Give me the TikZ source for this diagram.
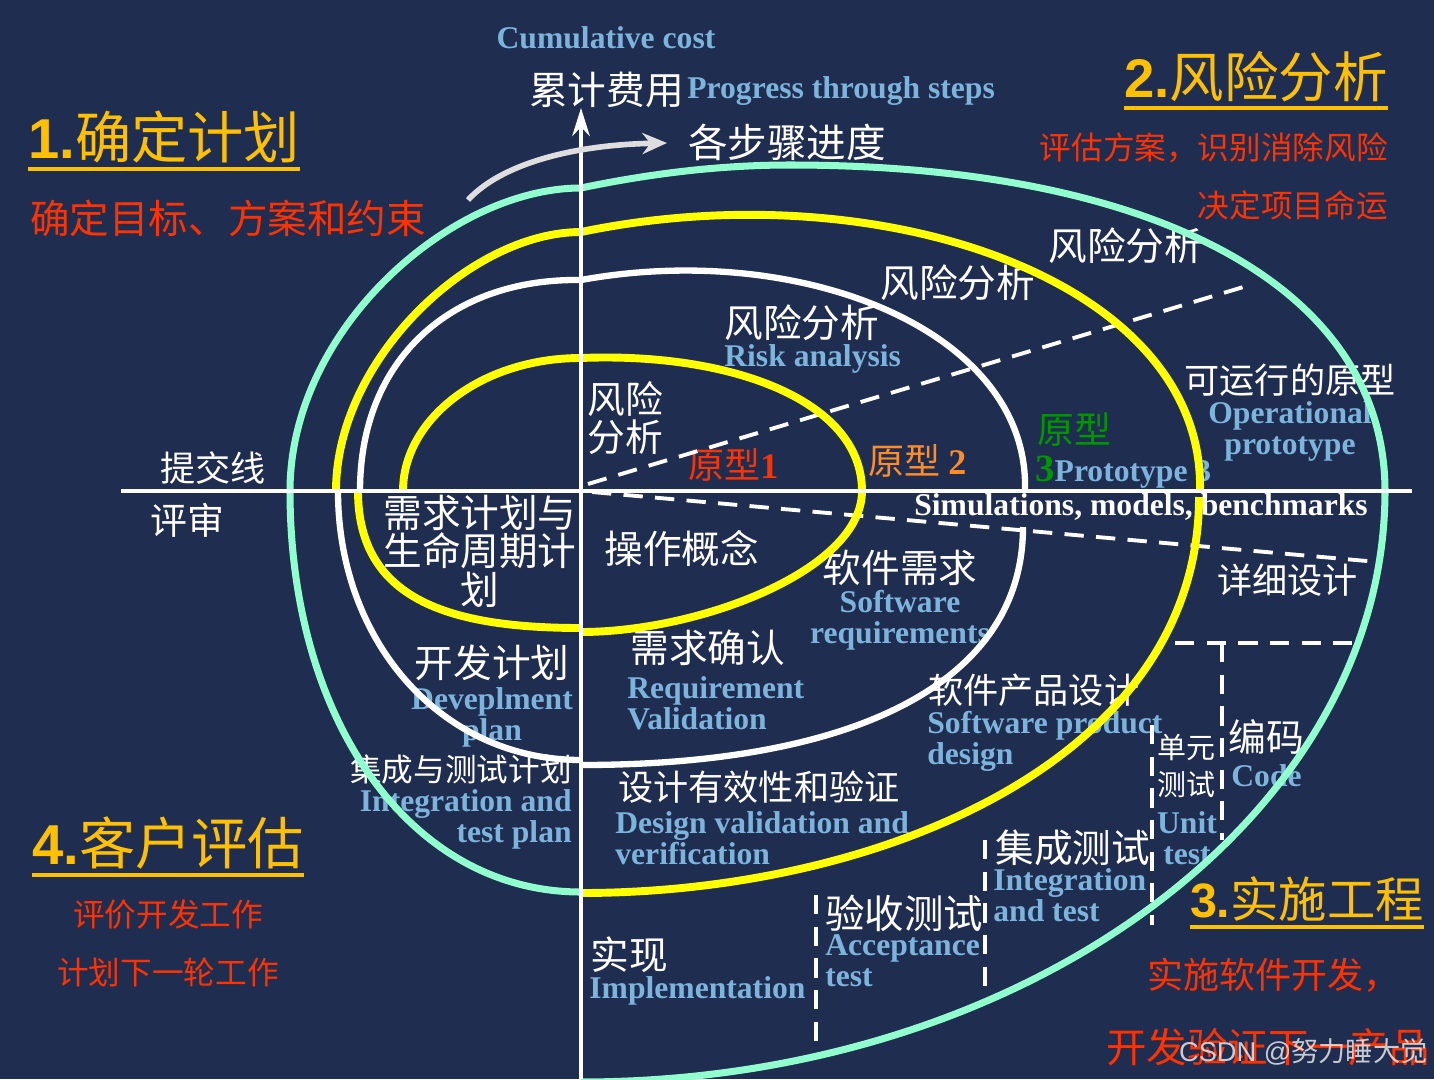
\documentclass[tikz,border=0pt]{standalone}
\usepackage{fontspec}
\setmainfont{Liberation Serif}
\newfontfamily\cjk{Noto Sans CJK SC}
\newfontfamily\headsf{Liberation Sans}
\usetikzlibrary{positioning, arrows.meta}

\definecolor{bgnavy}{RGB}{31,45,80}
\definecolor{gold}{RGB}{255,192,0}
\definecolor{redtxt}{RGB}{255,50,0}
\definecolor{orangetxt}{RGB}{255,140,40}
\definecolor{greentxt}{RGB}{0,150,0}
\definecolor{skyblue}{RGB}{125,180,220}
\definecolor{aqua}{RGB}{145,255,205}
\definecolor{lemon}{RGB}{255,255,0}
\definecolor{arrowgray}{RGB}{222,222,222}

\begin{document}
\begin{tikzpicture}[x=0.02cm, y=-0.02cm,
    cn/.style={text=white, inner sep=0pt, font=\cjk\fontsize{#1}{#1}\selectfont},
    cn/.default=22,
    en/.style={text=skyblue, inner sep=0pt, font=\bfseries\fontsize{18}{17.6}\selectfont},
    hd/.style={text=gold, inner sep=0pt, font=\cjk\fontsize{#1}{#1}\selectfont},
    note/.style={text=redtxt, inner sep=0pt, font=\cjk\fontsize{#1}{#1}\selectfont},
    uline/.style={gold, line width=2pt},
    yarc/.style={lemon, line width=4.5pt},
    warc/.style={white, line width=3.6pt},
    garc/.style={aqua, line width=4pt},
    cut/.style={white, line width=2.2pt, dash pattern=on 11pt off 7pt}]

        % Background
        \fill[bgnavy] (0,0) rectangle (1434,1079);
        \useasboundingbox (0,0) rectangle (1434,1079);

        % Axis titles
        \node[en] (cumcost) at (606,38) {Cumulative cost};
        \node[cn, anchor=east] (cumcn) at (684,90) {累计费用};
        \node[en, anchor=west] (progen) at (687,91) {Progress through steps};
        \node[cn=22.5] (stepcn) at (787,142) {各步骤进度};
        \node[cn=20, anchor=west] (submit) at (160,468) {提交线};
        \node[cn=21, anchor=west] (review) at (150,520) {评审};

        % Quadrant headings
        \node[hd=32, anchor=west] (plan1) at (28,137) {{\headsf\bfseries 1.}确定计划};
        \draw[uline] ([yshift=-3pt]plan1.south west) -- ([yshift=-3pt]plan1.south east);
        \node[note=22.5, anchor=west] (plan1a) at (30,218) {确定目标、方案和约束};

        \node[hd=31, anchor=east] (risk2) at (1388,77) {{\headsf\bfseries 2.}风险分析};
        \draw[uline] ([yshift=-3pt]risk2.south west) -- ([yshift=-3pt]risk2.south east);
        \node[note=18, anchor=east] (risk2a) at (1388,148) {评估方案，识别消除风险};
        \node[note=18, anchor=east] (risk2b) at (1388,205) {决定项目命运};

        \node[hd=27.5, anchor=east] (impl3) at (1424,899) {{\headsf\bfseries 3.}实施工程};
        \draw[uline] ([yshift=-3pt]impl3.south west) -- ([yshift=-3pt]impl3.south east);
        \node[note=20.5, anchor=east] (impl3a) at (1400,975) {实施软件开发，};
        \node[note=23, anchor=west] (impl3b) at (1106,1047) {开发验证下一产品};

        \node[hd=32, anchor=west] (eval4) at (32,843) {{\headsf\bfseries 4.}客户评估};
        \draw[uline] ([yshift=-3pt]eval4.south west) -- ([yshift=-3pt]eval4.south east);
        \node[note=18] (eval4a) at (168,915) {评价开发工作};
        \node[note=18] (eval4b) at (168,972) {计划下一轮工作};

        % Risk analysis and prototypes
        \node[cn, anchor=west] (riskA) at (1048,246) {风险分析};
        \node[cn, anchor=west] (riskB) at (880,283) {风险分析};
        \node[cn, anchor=west] (riskC) at (724,323) {风险分析};
        \node[en, anchor=west] (riskCen) at (724,359) {Risk analysis};
        \node[cn=21.5, anchor=west, align=left] (riskD) at (587,418) {风险\\分析};
        \node[note=20.5, anchor=west] (proto1) at (688,465) {原型{\rmfamily\bfseries 1}};
        \node[note=20.5, anchor=west, text=orangetxt] (proto2) at (868,461) {原型 {\rmfamily\bfseries 2}};
        \node[cn=21, anchor=west, text=greentxt] (proto3cn) at (1037,430) {原型};
        \node[en, anchor=west] (proto3) at (1035,472) {{\color{greentxt}\fontsize{22}{22}\selectfont 3}Prototype 3};
        \node[cn=20] (oproto) at (1290,380) {可运行的原型};
        \node[en, align=center] (oprotoen) at (1290,431) {Operational\\prototype};
        \node[en, anchor=west, text=white] (simul) at (914,507) {Simulations, models, benchmarks};

        % Lower labels
        \node[cn, align=center] (reqplan) at (480,551) {需求计划与\\生命周期计\\划};
        \node[cn, anchor=west] (opcon) at (604,549) {操作概念};
        \node[cn] (swreq) at (900,568) {软件需求};
        \node[en, align=center] (swreqen) at (900,620) {Software\\requirements};
        \node[cn, anchor=west] (reqval) at (630,648) {需求确认};
        \node[en, anchor=west, align=left] (reqvalen) at (627,703) {Requirement\\Validation};
        \node[cn] (devplan) at (492,663) {开发计划};
        \node[en, align=center] (devplanen) at (492,717) {Deveplment\\plan};
        \node[cn=18, anchor=east] (itplan) at (572,770) {集成与测试计划};
        \node[en, anchor=east, align=right] (itplanen) at (572,819) {Integration and\\test plan};
        \node[cn=20, anchor=west] (swprod) at (928,690) {软件产品设计};
        \node[en, anchor=west, align=left] (swproden) at (927,741) {Software product\\design};
        \node[cn=20, anchor=west] (desval) at (618,787) {设计有效性和验证};
        \node[en, anchor=west, align=left] (desvalen) at (615,838) {Design validation and\\verification};
        \node[cn=20, anchor=west] (detail) at (1217,580) {详细设计};
        \node[cn=21.5, anchor=west] (code) at (1228,737) {编码};
        \node[en, anchor=west] (codeen) at (1231,776) {Code};
        \node[cn, font=\cjk\fontsize{16.5}{21}\selectfont, align=center] (unit) at (1186,766) {单元\\测试};
        \node[en, align=center] (uniten) at (1187,838) {Unit\\test};
        \node[cn, anchor=west] (integ) at (995,848) {集成测试};
        \node[en, anchor=west, align=left] (integen) at (993,895) {Integration\\and test};
        \node[cn=22.5, anchor=west] (accept) at (825,913) {验收测试};
        \node[en, anchor=west, align=left] (accepten) at (825,961) {Acceptance\\test};
        \node[cn, anchor=west] (impl) at (590,955) {实现};
        \node[en, anchor=west] (implen) at (589,991) {Implementation};

        % Dashed dividers
        \draw[cut] (588,484) -- (1250,285);
        \draw[cut] (592,492) -- (1378,562);
        \draw[cut] (1175,643) -- (1355,643);
        \draw[cut] (1222,643) -- (1222,840);
        \draw[cut] (1152,725) -- (1152,925);
        \draw[cut] (985,840) -- (985,995);
        \draw[cut] (816,895) -- (816,1050);

        % Spiral, one quarter at a time
        \draw[yarc] (403,491) .. controls (403,420) and (480,358) .. (581,358);
        \draw[yarc] (581,358) .. controls (730,352) and (862,400) .. (862,491);
        \draw[yarc] (862,491) .. controls (862,570) and (700,632) .. (581,632);
        \draw[yarc] (581,628) .. controls (450,628) and (358,600) .. (358,491);
        \draw[warc] (360,491) .. controls (360,360) and (450,278) .. (581,280);
        \draw[warc] (581,280) .. controls (800,240) and (1030,330) .. (1025,491);
        \draw[warc] (1023,527) .. controls (1023,680) and (860,765) .. (581,765);
        \draw[warc] (581,760) .. controls (440,760) and (338,640) .. (338,491);
        \draw[yarc] (336,491) .. controls (336,360) and (470,232) .. (581,232);
        \draw[yarc] (581,232) .. controls (880,170) and (1205,280) .. (1200,491);
        \draw[yarc] (1199,497) .. controls (1199,760) and (880,893) .. (581,893);
        \draw[garc] (581,892) .. controls (410,892) and (290,720) .. (290,491);
        \draw[garc] (290,491) .. controls (290,330) and (450,188) .. (581,188);
        \draw[garc] (581,188) .. controls (648,174) and (718,165) .. (790,165)
                    .. controls (1160,165) and (1385,290) .. (1385,491);
        \draw[garc] (1385,491) .. controls (1385,816) and (1025,1082) .. (581,1082);

        % Axes
        \coordinate (axL) at (121,491);
        \coordinate (axR) at (1412,491);
        \coordinate (axB) at (581,1079);
        \coordinate (axT) at (581,108);
        \draw[white, line width=2.8pt] (axL) -- (axR);
        \draw[white, line width=2.2pt, -{Stealth[length=16pt, width=10pt]}] (axB) -- (axT);

        % Progress arrow
        \coordinate (pgS) at (468,200);
        \coordinate (pgE) at (667,143);
        \draw[arrowgray, line width=3.2pt, -{Stealth[length=14pt, width=12pt]}] (pgS) .. controls (500,165) and (570,145) .. (pgE);

        % Watermark
        \node[anchor=east, inner sep=0pt, text=white, opacity=0.75, font=\headsf\fontsize{15.5}{15.5}\selectfont] (mark) at (1428,1052) {CSDN @{\cjk 努力睡大觉}};
\end{tikzpicture}
\end{document}
